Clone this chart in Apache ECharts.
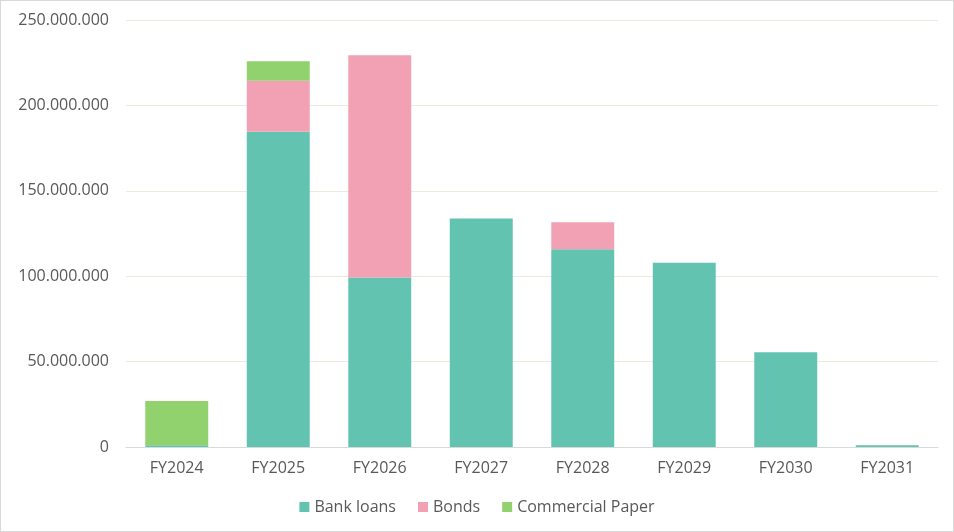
<!DOCTYPE html>
<html>
<head>
    <meta charset="utf-8" />
    <title>Debt maturity</title>
    <script src="https://cdn.jsdelivr.net/npm/echarts@6/dist/echarts.min.js"></script>
    <style>
        body { margin: 0; }
        #main { width: 954px; height: 532px; box-sizing: border-box; border: 1px solid #d9d9d9; }
    </style>
</head>
<body>
    <div id="main"></div>
    <script type="text/javascript">
        // data
        var years = ['FY2024', 'FY2025', 'FY2026', 'FY2027', 'FY2028', 'FY2029', 'FY2030', 'FY2031'];
        var bankLoans = [1000000, 184600000, 99300000, 133800000, 115800000, 107900000, 55500000, 1000000];
        var bonds = [0, 29800000, 130100000, 0, 15800000, 0, 0, 0];
        var commercialPaper = [26000000, 11500000, 0, 0, 0, 0, 0, 0];

        var myChart = echarts.init(document.getElementById('main'));

        function fmt(v) {
            return String(v).replace(/\B(?=(\d{3})+(?!\d))/g, '.');
        }

        var font = '"Open Sans", "Noto Sans", sans-serif';

        function barSeries(name, data, color) {
            return {
                name: name,
                type: 'bar',
                stack: 'total',
                barWidth: '62%',
                data: data,
                itemStyle: { color: color }
            };
        }

        option = {
            animation: false,
            grid: { left: 125, right: 15, top: 19, bottom: 84 },
            legend: {
                bottom: 11,
                itemWidth: 10,
                itemHeight: 10,
                itemGap: 22,
                icon: 'rect',
                textStyle: { color: '#595959', fontSize: 16, fontFamily: font }
            },
            xAxis: {
                type: 'category',
                data: years,
                axisTick: { show: false },
                axisLine: { lineStyle: { color: '#d9d9d9' } },
                axisLabel: { color: '#595959', fontSize: 16, fontFamily: font, margin: 13 }
            },
            yAxis: {
                type: 'value',
                min: 0,
                max: 250000000,
                interval: 50000000,
                axisLine: { show: false },
                axisTick: { show: false },
                splitLine: { lineStyle: { color: '#ede9dc' } },
                axisLabel: {
                    color: '#595959', fontSize: 16, fontFamily: font, margin: 17,
                    formatter: function (v) { return fmt(v); }
                }
            },
            series: [
                barSeries('Bank loans', bankLoans, '#61c3b0'),
                barSeries('Bonds', bonds, '#f1a1b3'),
                barSeries('Commercial Paper', commercialPaper, '#92d26e')
            ]
        };
        myChart.setOption(option);
    </script>
</body>
</html>
